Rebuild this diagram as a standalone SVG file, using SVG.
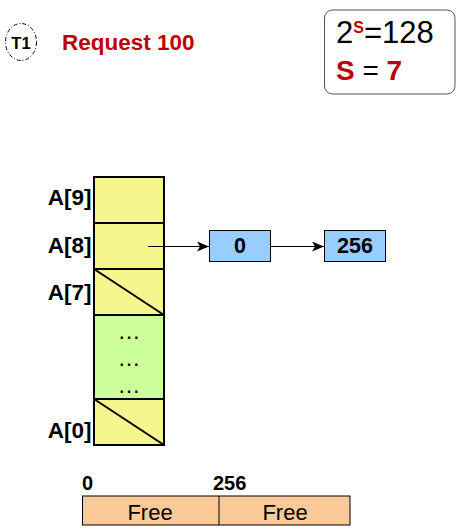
<svg xmlns="http://www.w3.org/2000/svg" width="461" height="531" viewBox="0 0 461 531">
<style>
.lbl{font-family:"Liberation Sans",Arial,sans-serif;font-weight:bold;font-size:22.5px;fill:#000}
.cell{fill:#f5f78e;stroke:#000;stroke-width:2}
.node{fill:#99ccff;stroke:#000;stroke-width:1}
.ntext{font-family:"Liberation Sans",Arial,sans-serif;font-weight:bold;font-size:21.5px;text-anchor:middle}
.conn{stroke:#000;stroke-width:1;fill:none}
.dots{font-family:"Liberation Sans",Arial,sans-serif;font-size:23px;text-anchor:middle}
</style>
<defs>
<marker id="ah" viewBox="0 0 12 10" refX="12" refY="5" markerWidth="12" markerHeight="10" markerUnits="userSpaceOnUse" orient="auto">
<path d="M0,0 L12,5 L0,10 L3,5 Z" fill="#000"/>
</marker>
</defs>
<rect width="461" height="531" fill="#fff"/>
<g id="t1">
<ellipse cx="21" cy="42" rx="15.5" ry="18.5" fill="none" stroke="#000" stroke-width="1" stroke-dasharray="4,2,1,2"/>
<text x="21" y="48.5" text-anchor="middle" font-family="Liberation Sans,Arial,sans-serif" font-weight="bold" font-size="16.5">T1</text>
</g>
<g id="request">
<text x="62" y="49.5" font-family="Liberation Sans,Arial,sans-serif" font-weight="bold" font-size="22.5" fill="#c00000">Request 100</text>
</g>
<g id="formula">
<rect x="324.5" y="10" width="130.5" height="84" rx="8" fill="#fff" stroke="#555" stroke-width="1"/>
<text x="336" y="43" font-family="Liberation Sans,Arial,sans-serif" font-size="31">2<tspan fill="#c00000" font-weight="bold" font-size="16" dy="-10.5">S</tspan><tspan dy="10.5">=128</tspan></text>
<text x="336" y="80" font-family="Liberation Sans,Arial,sans-serif" font-size="28" font-weight="bold" fill="#c00000">S <tspan fill="#000" font-weight="normal">=</tspan> 7</text>
</g>
<g id="array">
<rect class="cell" x="94" y="177" width="70" height="46"/>
<rect class="cell" x="94" y="223" width="70" height="46"/>
<rect class="cell" x="94" y="269" width="70" height="46"/>
<line x1="94" y1="269" x2="164" y2="315" stroke="#000" stroke-width="2"/>
<rect x="94" y="315" width="70" height="84" fill="#ccff99" stroke="#000" stroke-width="2"/>
<rect class="cell" x="94" y="399" width="70" height="46"/>
<line x1="94" y1="399" x2="164" y2="445" stroke="#000" stroke-width="2"/>
<text class="dots" x="129" y="338.5">…</text>
<text class="dots" x="129" y="365.5">…</text>
<text class="dots" x="129" y="393">…</text>
<text class="lbl" x="91.5" y="205" text-anchor="end">A[9]</text>
<text class="lbl" x="91.5" y="252.5" text-anchor="end">A[8]</text>
<text class="lbl" x="91.5" y="299.5" text-anchor="end">A[7]</text>
<text class="lbl" x="91.5" y="437.5" text-anchor="end">A[0]</text>
</g>
<g id="node0">
<rect class="node" x="209.5" y="230.5" width="61" height="31"/>
<text class="ntext" x="240" y="253">0</text>
</g>
<g id="node256">
<rect class="node" x="324.5" y="230.5" width="61" height="31"/>
<text class="ntext" x="355" y="253">256</text>
</g>
<g id="connectors">
<line class="conn" x1="148" y1="246.5" x2="209" y2="246.5" marker-end="url(#ah)"/>
<line class="conn" x1="271" y1="246.5" x2="324" y2="246.5" marker-end="url(#ah)"/>
</g>
<g id="memory">
<rect x="82.5" y="496" width="267.5" height="29" fill="#fbc997" stroke="#000" stroke-width="1"/>
<line x1="219" y1="496" x2="219" y2="525" stroke="#000" stroke-width="1"/>
<text x="150" y="520" text-anchor="middle" font-family="Liberation Sans,Arial,sans-serif" font-size="22">Free</text>
<text x="285" y="520" text-anchor="middle" font-family="Liberation Sans,Arial,sans-serif" font-size="22">Free</text>
<text x="82" y="490" font-family="Liberation Sans,Arial,sans-serif" font-weight="bold" font-size="20">0</text>
<text x="213" y="490" font-family="Liberation Sans,Arial,sans-serif" font-weight="bold" font-size="20">256</text>
</g>
</svg>
